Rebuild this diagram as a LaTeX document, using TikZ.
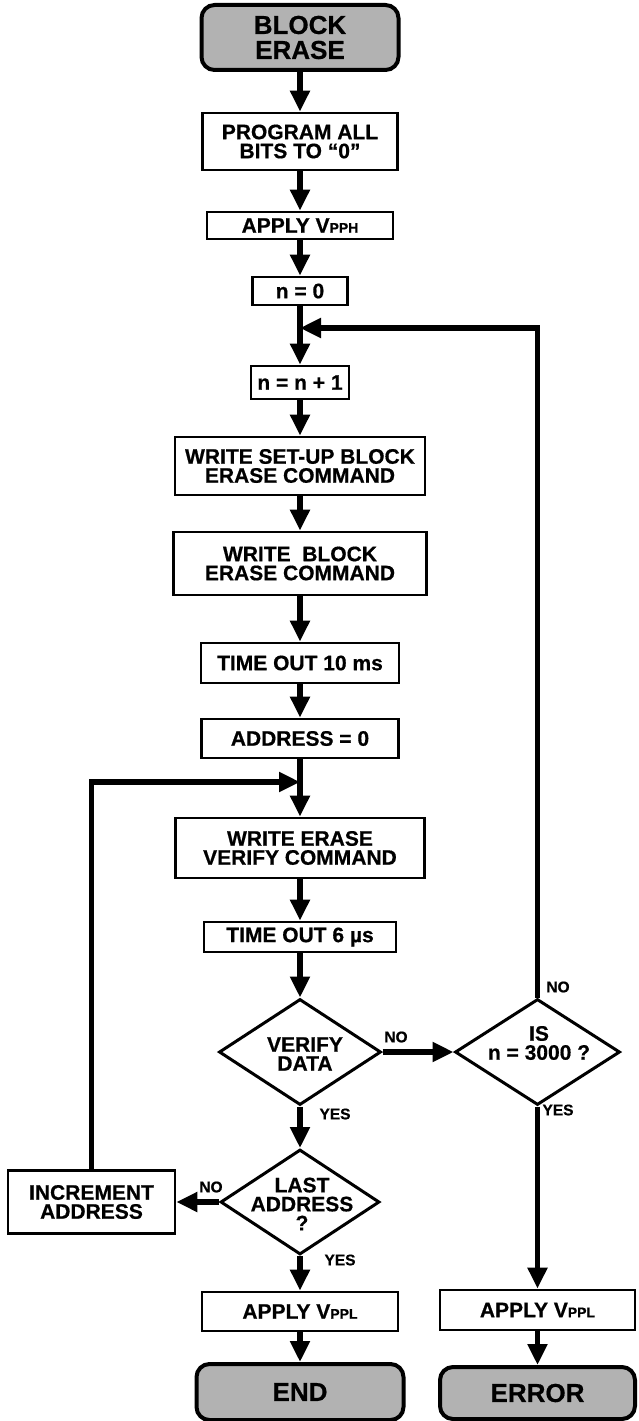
\documentclass[tikz,border=0pt]{standalone}
\usepackage{fontspec}
\setmainfont{Liberation Sans}[BoldFeatures={FakeBold=0.6}]
\usetikzlibrary{arrows.meta,shapes.geometric}
\newcommand{\myvsub}[1]{{\fontsize{14}{14}\selectfont #1}}
\begin{document}
\begin{tikzpicture}[x=1pt,y=-1pt,
  every node/.style={font=\bfseries\fontsize{21}{19}\selectfont, align=center, inner sep=0pt},
  box/.style={draw, line width=2.8pt, rectangle},
  term/.style={draw, line width=4pt, rounded corners=13pt, fill=black!30, font=\bfseries\fontsize{26}{25}\selectfont},
  dec/.style={draw, line width=3pt, diamond},
  conn/.style={line width=5.5pt, -{Triangle[length=21pt,width=19pt]}},
  lbl/.style={font=\bfseries\fontsize{15.5}{15}\selectfont}
]
\useasboundingbox (0,0) rectangle (638,1421);
\node[term, minimum width=197pt, minimum height=65pt] (start) at (300,37.5) {BLOCK\\ERASE};
\node[box, minimum width=195pt, minimum height=57pt] (prog) at (300,141.5) {PROGRAM ALL\\BITS TO ``0''};
\node[box, minimum width=186pt, minimum height=27pt] (vpph) at (300,225.5) {APPLY V\myvsub{PPH}};
\node[box, minimum width=95pt, minimum height=28pt] (n0) at (300,291) {n = 0};
\coordinate (j1) at (300,328);
\node[box, minimum width=98pt, minimum height=33pt] (n1) at (300,382.5) {n = n + 1};
\node[box, minimum width=250pt, minimum height=58pt] (setup) at (300,466) {WRITE SET-UP BLOCK\\ERASE COMMAND};
\node[box, minimum width=253pt, minimum height=63pt] (wblock) at (300,563.5) {WRITE \ BLOCK\\ERASE COMMAND};
\node[box, minimum width=198pt, minimum height=40pt] (to10) at (300,663) {TIME OUT 10 ms};
\node[box, minimum width=197pt, minimum height=39pt] (addr) at (300,738.5) {ADDRESS = 0};
\coordinate (j2) at (300,782);
\node[box, minimum width=249pt, minimum height=60pt] (wev) at (300,848) {WRITE ERASE\\VERIFY COMMAND};
\node[box, minimum width=192pt, minimum height=30pt] (to6) at (300,937) {TIME OUT 6 µs};
\node[dec, minimum width=162pt, minimum height=106pt] (verify) at (300,1052) {};
\node (verifyt) at (305,1054) {VERIFY\\DATA};
\node[dec, minimum width=165pt, minimum height=106pt] (is) at (537.5,1052) {};
\node (ist) at (539,1043) {IS\\n = 3000 ?};
\node[dec, minimum width=159pt, minimum height=105pt] (last) at (300,1202) {};
\node (lastt) at (302,1204) {LAST\\ADDRESS\\?};
\node[box, minimum width=167pt, minimum height=63pt] (incr) at (91.5,1202) {INCREMENT\\ADDRESS};
\node[box, minimum width=196pt, minimum height=39pt] (vppl1) at (300,1311.5) {APPLY V\myvsub{PPL}};
\node[term, minimum width=207pt, minimum height=56pt] (end) at (300,1392) {END};
\node[box, minimum width=195pt, minimum height=40pt] (vppl2) at (537.5,1310) {APPLY V\myvsub{PPL}};
\node[term, minimum width=195pt, minimum height=52pt] (err) at (537.5,1393) {ERROR};
% connectors
\draw[conn] (start) -- (prog);
\draw[conn] (prog) -- (vpph);
\draw[conn] (vpph) -- (n0);
\draw[conn] (n0) -- (n1);
\draw[conn] (n1) -- (setup);
\draw[conn] (setup) -- (wblock);
\draw[conn] (wblock) -- (to10);
\draw[conn] (to10) -- (addr);
\draw[conn] (addr) -- (wev);
\draw[conn] (wev) -- (to6);
\draw[conn] (to6) -- (verify.north);
\draw[conn] (verify.south) -- (last.north);
\draw[conn] (last.south) -- (vppl1);
\draw[conn] (vppl1) -- (end);
\draw[conn] (verify.east) -- (is.west);
\draw[conn] (is.south) -- (vppl2);
\draw[conn] (vppl2) -- (err);
\draw[conn] (last.west) -- (incr.east);
\draw[conn] (is.north) |- (j1);
\draw[conn] (incr.north) |- (j2);
% labels
\node[lbl] (no1) at (396,1037) {NO};
\node[lbl] (no2) at (558,987) {NO};
\node[lbl] (yes1) at (335,1114) {YES};
\node[lbl] (yes2) at (558,1110) {YES};
\node[lbl] (no3) at (211,1187) {NO};
\node[lbl] (yes3) at (340,1260) {YES};
\end{tikzpicture}
\end{document}
